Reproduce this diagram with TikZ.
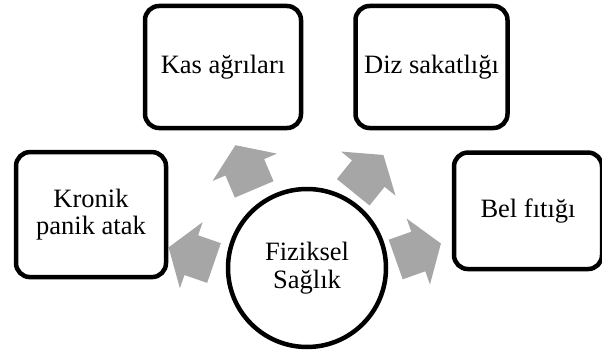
\documentclass[tikz,border=0pt]{standalone}
\usepackage{fontspec}
\setmainfont{Liberation Serif}
\definecolor{arrowgray}{RGB}{166,166,166}
\def\radarrow(#1)(#2){\fill[arrowgray, shift={(#1)}, rotate=#2] (-24,-21) -- (0,-21) -- (0,-35) -- (24,0) -- (0,35) -- (0,21) -- (-24,21) -- cycle;}
\tikzset{
	boxnode/.style={draw, line width=4.5pt, rounded corners=14pt, align=center, inner sep=0pt,
		font=\fontsize{26.5}{27.5}\selectfont},
	hubnode/.style={draw, circle, line width=4.5pt, minimum size=158pt, inner sep=0pt, align=center,
		font=\fontsize{26.5}{27.5}\selectfont}
}

\begin{document}
\begin{tikzpicture}[x=1pt, y=-1pt]
			%%%%% START %%%%%
			
			\useasboundingbox (0, 0) rectangle (602, 353);
			
			\radarrow(244.8, 167.3)(113);
			\radarrow(368.3, 173.6)(51);
			\radarrow(191.3, 255.2)(161);
			\radarrow(418.3, 251.5)(19.5);
			
			\node[hubnode] (saglik) at (307, 268) {Fiziksel\\Sağlık};
			
			\node[boxnode, minimum width=156pt, minimum height=122pt] (kas) at (223, 67) {Kas ağrıları};
			\node[boxnode, minimum width=152pt, minimum height=122pt] (diz) at (431.5, 67) {Diz sakatlığı};
			\node[boxnode, minimum width=150pt, minimum height=125pt] (kronik) at (91, 214.6) {Kronik\\panik atak};
			\node[boxnode, minimum width=148pt, minimum height=116.5pt] (bel) at (528, 210.8) {Bel fıtığı};
			
			%%%%% END %%%%%
\end{tikzpicture}
\end{document}
